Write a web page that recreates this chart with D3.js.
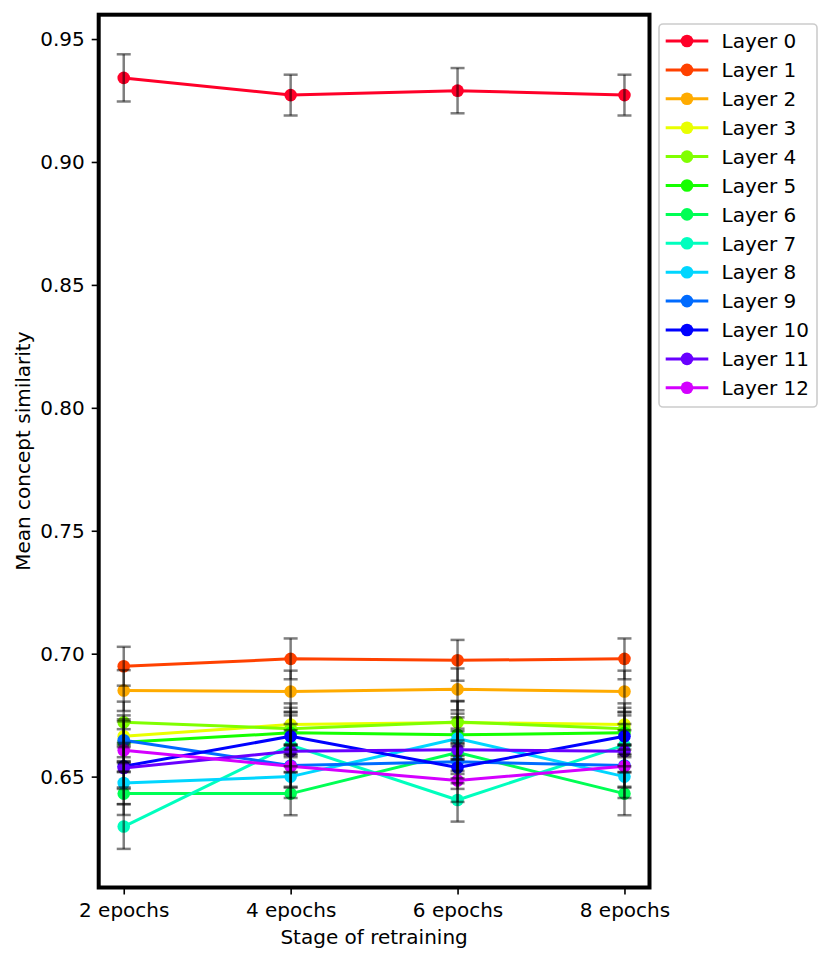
<!DOCTYPE html>
<html>
<head>
<meta charset="utf-8">
<script src="https://cdn.jsdelivr.net/npm/d3@7"></script>
<style>
  body { margin: 0; background: #fff; }
  svg { display: block; }
  text { font-family: "DejaVu Sans", sans-serif; }
</style>
</head>
<body>
<script>
var w = 831;
var h = 963;

// data
var stages = ["2 epochs", "4 epochs", "6 epochs", "8 epochs"];
var layers = ["Layer 0", "Layer 1", "Layer 2", "Layer 3", "Layer 4", "Layer 5", "Layer 6",
              "Layer 7", "Layer 8", "Layer 9", "Layer 10", "Layer 11", "Layer 12"];
var means = [
  [0.9342, 0.9272, 0.9290, 0.9272],
  [0.6949, 0.6979, 0.6973, 0.6979],
  [0.6850, 0.6846, 0.6855, 0.6846],
  [0.6664, 0.6712, 0.6720, 0.6712],
  [0.6721, 0.6695, 0.6722, 0.6695],
  [0.6640, 0.6678, 0.6670, 0.6678],
  [0.6431, 0.6431, 0.6598, 0.6431],
  [0.6297, 0.6628, 0.6405, 0.6628],
  [0.6474, 0.6500, 0.6655, 0.6500],
  [0.6648, 0.6545, 0.6560, 0.6545],
  [0.6542, 0.6664, 0.6537, 0.6664],
  [0.6535, 0.6603, 0.6609, 0.6603],
  [0.6607, 0.6542, 0.6484, 0.6542]
];
var errs = [
  [0.0096, 0.0083, 0.0092, 0.0083],
  [0.0079, 0.0083, 0.0083, 0.0083],
  [0.0083, 0.0085, 0.0085, 0.0085],
  [0.0085, 0.0086, 0.0086, 0.0086],
  [0.0084, 0.0085, 0.0086, 0.0085],
  [0.0085, 0.0086, 0.0086, 0.0086],
  [0.0087, 0.0088, 0.0087, 0.0088],
  [0.0091, 0.0086, 0.0088, 0.0086],
  [0.0086, 0.0087, 0.0086, 0.0087],
  [0.0085, 0.0086, 0.0087, 0.0086],
  [0.0086, 0.0085, 0.0087, 0.0085],
  [0.0085, 0.0086, 0.0086, 0.0086],
  [0.0086, 0.0087, 0.0087, 0.0087]
];
var yTicks = [0.65, 0.70, 0.75, 0.80, 0.85, 0.90, 0.95];

// gist_rainbow, 13 steps
var colors = ["#ff0029", "#ff4100", "#ffab00", "#e9ff00", "#80ff00", "#15ff00", "#00ff54",
              "#00ffbe", "#00d6ff", "#006bff", "#0001ff", "#6900ff", "#d400ff"];

var pL = 98.7, pR = 649.5, pT = 14.7, pB = 887.5;
var fs = 20;

var svg = d3.select("body")
    .append("svg")
    .attr("width", w)
    .attr("height", h);

var x = d3.scalePoint()
    .domain(stages)
    .range([pL, pR])
    .padding(0.15);

var y = d3.scaleLinear()
    .domain([0.6049, 0.9599])
    .range([pB, pT]);

var line = d3.line()
    .x(function(d, i) { return x(stages[i]); })
    .y(function(d) { return y(d); });

// series lines + markers
means.forEach(function(vals, k) {
    svg.append("path")
        .datum(vals)
        .attr("d", line)
        .attr("fill", "none")
        .attr("stroke", colors[k])
        .attr("stroke-width", 3)
        .attr("stroke-linejoin", "round");

    svg.selectAll(".m" + k)
        .data(vals)
        .enter()
        .append("circle")
        .attr("cx", function(d, i) { return x(stages[i]); })
        .attr("cy", function(d) { return y(d); })
        .attr("r", 6.3)
        .attr("fill", colors[k]);
});

// error bars on top
means.forEach(function(vals, k) {
    var g = svg.append("g")
        .attr("stroke", "#000")
        .attr("stroke-opacity", 0.5)
        .attr("stroke-width", 2.5);
    vals.forEach(function(d, i) {
        var cx = x(stages[i]);
        var y0 = y(d - errs[k][i]);
        var y1 = y(d + errs[k][i]);
        g.append("line").attr("x1", cx).attr("x2", cx).attr("y1", y0).attr("y2", y1);
        g.append("line").attr("x1", cx - 7).attr("x2", cx + 7).attr("y1", y0).attr("y2", y0);
        g.append("line").attr("x1", cx - 7).attr("x2", cx + 7).attr("y1", y1).attr("y2", y1);
    });
});

// axes
var yAxis = svg.append("g")
    .attr("transform", "translate(" + pL + ",0)")
    .call(d3.axisLeft(y).tickValues(yTicks).tickFormat(d3.format(".2f")).tickSize(7).tickPadding(7));

var xAxis = svg.append("g")
    .attr("transform", "translate(0," + pB + ")")
    .call(d3.axisBottom(x).tickSize(7).tickPadding(7));

[yAxis, xAxis].forEach(function(a) {
    a.select(".domain").remove();
    a.selectAll(".tick line").attr("stroke", "#000").attr("stroke-width", 1.6);
    a.selectAll(".tick text")
        .attr("fill", "#000")
        .attr("font-size", fs)
        .attr("font-family", "DejaVu Sans");
});
xAxis.selectAll(".tick text").attr("dy", "0.76em");

// frame
svg.append("rect")
    .attr("x", pL)
    .attr("y", pT)
    .attr("width", pR - pL)
    .attr("height", pB - pT)
    .attr("fill", "none")
    .attr("stroke", "#000")
    .attr("stroke-width", 4);

// axis labels
svg.append("text")
    .text("Stage of retraining")
    .attr("x", (pL + pR) / 2)
    .attr("y", 944)
    .attr("text-anchor", "middle")
    .attr("font-size", fs)
    .attr("fill", "#000");

svg.append("text")
    .text("Mean concept similarity")
    .attr("transform", "translate(30," + (pT + pB) / 2 + ") rotate(-90)")
    .attr("text-anchor", "middle")
    .attr("font-size", fs)
    .attr("fill", "#000");

// legend
var leg = svg.append("g");
leg.append("rect")
    .attr("x", 659)
    .attr("y", 24)
    .attr("width", 158)
    .attr("height", 383)
    .attr("rx", 4)
    .attr("fill", "#fff")
    .attr("fill-opacity", 0.8)
    .attr("stroke", "#cccccc")
    .attr("stroke-width", 1.6);

layers.forEach(function(name, k) {
    var ly = 41 + k * 28.9;
    leg.append("line")
        .attr("x1", 665.7).attr("x2", 708.3)
        .attr("y1", ly).attr("y2", ly)
        .attr("stroke", colors[k])
        .attr("stroke-width", 3);
    leg.append("circle")
        .attr("cx", 687)
        .attr("cy", ly)
        .attr("r", 6.3)
        .attr("fill", colors[k]);
    leg.append("text")
        .text(name)
        .attr("x", 721.5)
        .attr("y", ly)
        .attr("dy", "0.36em")
        .attr("font-size", fs)
        .attr("fill", "#000");
});
</script>
</body>
</html>
